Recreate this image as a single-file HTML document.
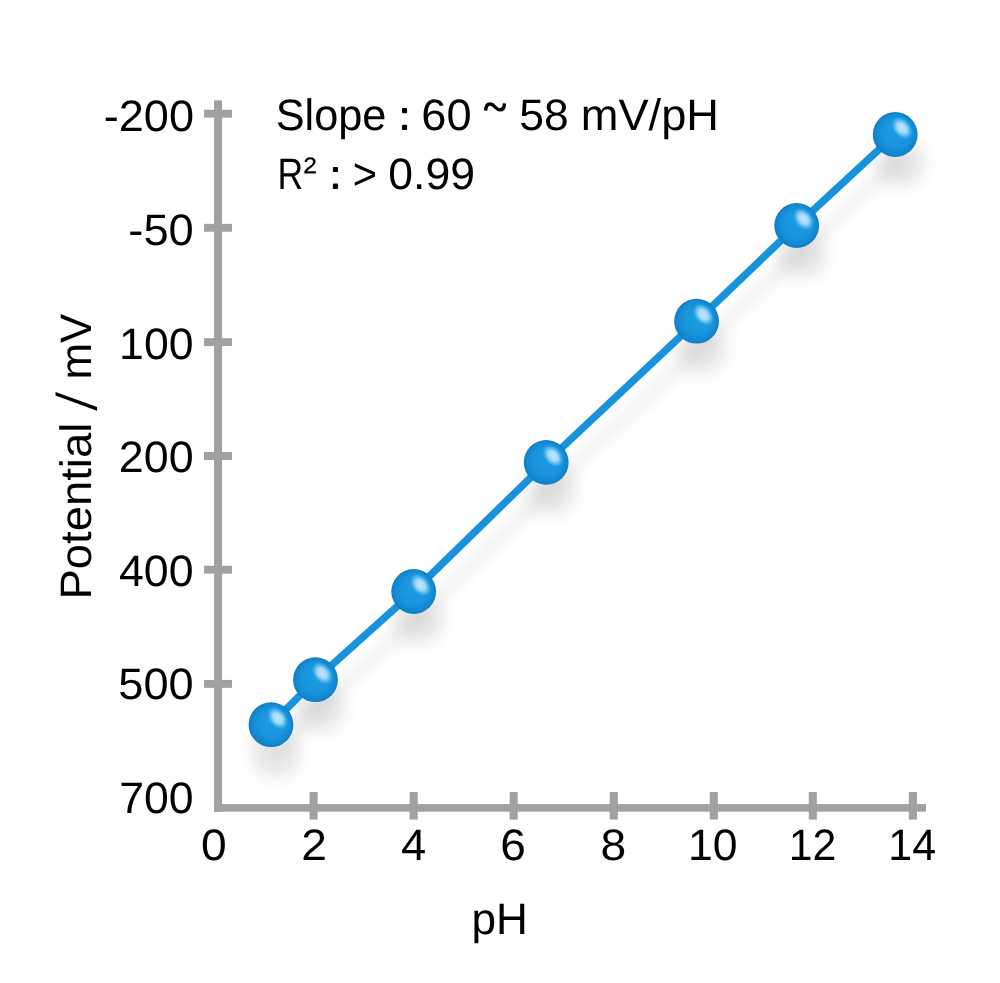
<!DOCTYPE html>
<html><head><meta charset="utf-8">
<style>
html,body{margin:0;padding:0;background:#fff;}
body{width:1000px;height:983px;overflow:hidden;font-family:"Liberation Sans",sans-serif;}
svg{display:block;}
text{font-family:"Liberation Sans",sans-serif;fill:#000;}
</style></head><body>
<svg width="1000" height="983" viewBox="0 0 1000 983">
<defs>
<radialGradient id="ball" cx="0.5" cy="0.5" r="0.5" fx="0.6" fy="0.38">
<stop offset="0" stop-color="#1f9ee5"/>
<stop offset="0.65" stop-color="#1894dc"/>
<stop offset="0.9" stop-color="#1287d0"/>
<stop offset="1" stop-color="#0e7bc3"/>
</radialGradient>
<radialGradient id="hl" cx="0.5" cy="0.5" r="0.5">
<stop offset="0" stop-color="#c4e4fd" stop-opacity="1"/>
<stop offset="0.45" stop-color="#aadcfb" stop-opacity="0.95"/>
<stop offset="0.75" stop-color="#62c6f3" stop-opacity="0.6"/>
<stop offset="1" stop-color="#3aaaea" stop-opacity="0"/>
</radialGradient>
<filter id="sh" x="-100%" y="-100%" width="300%" height="300%"><feGaussianBlur stdDeviation="9"/></filter>
<filter id="shl" x="-10%" y="-10%" width="120%" height="120%"><feGaussianBlur stdDeviation="7"/></filter>
<g id="b"><circle r="22.4" fill="url(#ball)"/><ellipse cx="6.8" cy="-6.5" rx="13" ry="9" fill="url(#hl)" transform="rotate(50 6.8 -6.5)"/></g>
</defs>
<rect width="1000" height="983" fill="#fff"/>
<polyline points="271,724.7 315.5,679.7 413.7,591.5 546.2,462.4 696.6,321.2 796.7,225.5 895.2,134.5" fill="none" stroke="#000" stroke-opacity="0.06" stroke-width="12" filter="url(#shl)" transform="translate(6,24)"/>
<g filter="url(#sh)" fill="#000" fill-opacity="0.105" transform="translate(5,28)">
<circle cx="271" cy="724.7" r="24"/>
<circle cx="315.5" cy="679.7" r="24"/>
<circle cx="413.7" cy="591.5" r="24"/>
<circle cx="546.2" cy="462.4" r="24"/>
<circle cx="696.6" cy="321.2" r="24"/>
<circle cx="796.7" cy="225.5" r="24"/>
<circle cx="895.2" cy="134.5" r="24"/>
</g>
<g fill="#a1a1a1">
<rect x="214" y="100.3" width="8" height="711.4"/>
<rect x="214" y="804.1" width="712" height="7.6"/>
<rect x="204" y="109.75" width="28" height="7.9"/>
<rect x="204" y="223.85" width="28" height="7.9"/>
<rect x="204" y="338.15" width="28" height="7.9"/>
<rect x="204" y="452.05" width="28" height="7.9"/>
<rect x="204" y="565.75" width="28" height="7.9"/>
<rect x="204" y="679.95" width="28" height="7.9"/>
<rect x="309.55" y="792" width="8.1" height="27.6"/>
<rect x="409.65" y="792" width="8.1" height="27.6"/>
<rect x="509.65" y="792" width="8.1" height="27.6"/>
<rect x="609.75" y="792" width="8.1" height="27.6"/>
<rect x="709.75" y="792" width="8.1" height="27.6"/>
<rect x="808.75" y="792" width="8.1" height="27.6"/>
<rect x="908.85" y="792" width="8.1" height="27.6"/>
</g>
<polyline points="271,724.7 315.5,679.7 413.7,591.5 546.2,462.4 696.6,321.2 796.7,225.5 895.2,134.5" fill="none" stroke="#1793de" stroke-width="7.4"/>
<use href="#b" x="271" y="724.7"/>
<use href="#b" x="315.5" y="679.7"/>
<use href="#b" x="413.7" y="591.5"/>
<use href="#b" x="546.2" y="462.4"/>
<use href="#b" x="696.6" y="321.2"/>
<use href="#b" x="796.7" y="225.5"/>
<use href="#b" x="895.2" y="134.5"/>
<g font-size="44" text-rendering="geometricPrecision" opacity="0.999">
<text x="275.72" y="130" font-size="44" textLength="110.71" lengthAdjust="spacingAndGlyphs">Slope</text>
<text x="421.37" y="130" font-size="44" textLength="50.30" lengthAdjust="spacingAndGlyphs">60</text>
<text x="519.38" y="130" font-size="44" textLength="49.40" lengthAdjust="spacingAndGlyphs">58</text>
<text x="580.80" y="130" font-size="44" textLength="138.14" lengthAdjust="spacingAndGlyphs">mV/pH</text>
<text x="277.46" y="189" font-size="44" textLength="25.70" lengthAdjust="spacingAndGlyphs">R</text>
<text x="303.51" y="184" font-size="38.5" textLength="13.19" lengthAdjust="spacingAndGlyphs">²</text>
<text x="352.67" y="189" font-size="44" textLength="24.31" lengthAdjust="spacingAndGlyphs">&gt;</text>
<text x="388.24" y="189" font-size="44" textLength="86.73" lengthAdjust="spacingAndGlyphs">0.99</text>
<text x="103.68" y="131" font-size="44" textLength="90.31" lengthAdjust="spacingAndGlyphs">-200</text>
<text x="128.37" y="245" font-size="44" textLength="65.41" lengthAdjust="spacingAndGlyphs">-50</text>
<text x="119.14" y="359" font-size="44" textLength="74.44" lengthAdjust="spacingAndGlyphs">100</text>
<text x="118.77" y="472" font-size="44" textLength="74.82" lengthAdjust="spacingAndGlyphs">200</text>
<text x="118.98" y="586" font-size="44" textLength="74.61" lengthAdjust="spacingAndGlyphs">400</text>
<text x="118.30" y="699" font-size="44" textLength="75.30" lengthAdjust="spacingAndGlyphs">500</text>
<text x="119.15" y="813" font-size="44" textLength="74.44" lengthAdjust="spacingAndGlyphs">700</text>
<text x="200.99" y="860" font-size="44" textLength="25.71" lengthAdjust="spacingAndGlyphs">0</text>
<text x="301.26" y="860" font-size="44" textLength="25.71" lengthAdjust="spacingAndGlyphs">2</text>
<text x="401.02" y="860" font-size="44" textLength="25.22" lengthAdjust="spacingAndGlyphs">4</text>
<text x="500.28" y="860" font-size="44" textLength="25.71" lengthAdjust="spacingAndGlyphs">6</text>
<text x="600.46" y="860" font-size="44" textLength="25.71" lengthAdjust="spacingAndGlyphs">8</text>
<text x="688.05" y="860" font-size="44" textLength="49.59" lengthAdjust="spacingAndGlyphs">10</text>
<text x="788.68" y="860" font-size="44" textLength="47.65" lengthAdjust="spacingAndGlyphs">12</text>
<text x="888.37" y="860" font-size="44" textLength="47.80" lengthAdjust="spacingAndGlyphs">14</text>
<text x="471.56" y="934" font-size="44" textLength="56.34" lengthAdjust="spacingAndGlyphs">pH</text>
<g fill="#000">
<rect x="402" y="108" width="5.1" height="5.2" rx="1"/><rect x="402" y="124.7" width="5.1" height="5.3" rx="1"/>
<rect x="332.9" y="166.9" width="5.1" height="5.1" rx="1"/><rect x="332.9" y="183.4" width="5.1" height="5.5" rx="1"/>
</g>
<path d="M485.7,110.6 C485.8,105.6 488,104 490.1,104 C493,104 494.1,106.1 495.4,107.4 C496.8,108.8 498,109.9 499.8,109.9 C502.6,109.9 504.4,108 504.5,103.4" fill="none" stroke="#000" stroke-width="3.4"/>
<polygon points="55.5,392 55.5,395.6 97,410.7 97,407.1" fill="#000"/>
<g transform="translate(90.8,595.7) rotate(-90)">
<text x="-3.75" y="0" font-size="44" textLength="176.75" lengthAdjust="spacingAndGlyphs">Potential</text>
<text x="216.13" y="0" font-size="44" textLength="65.90" lengthAdjust="spacingAndGlyphs">mV</text>
</g>
</g>
</svg>
</body></html>
